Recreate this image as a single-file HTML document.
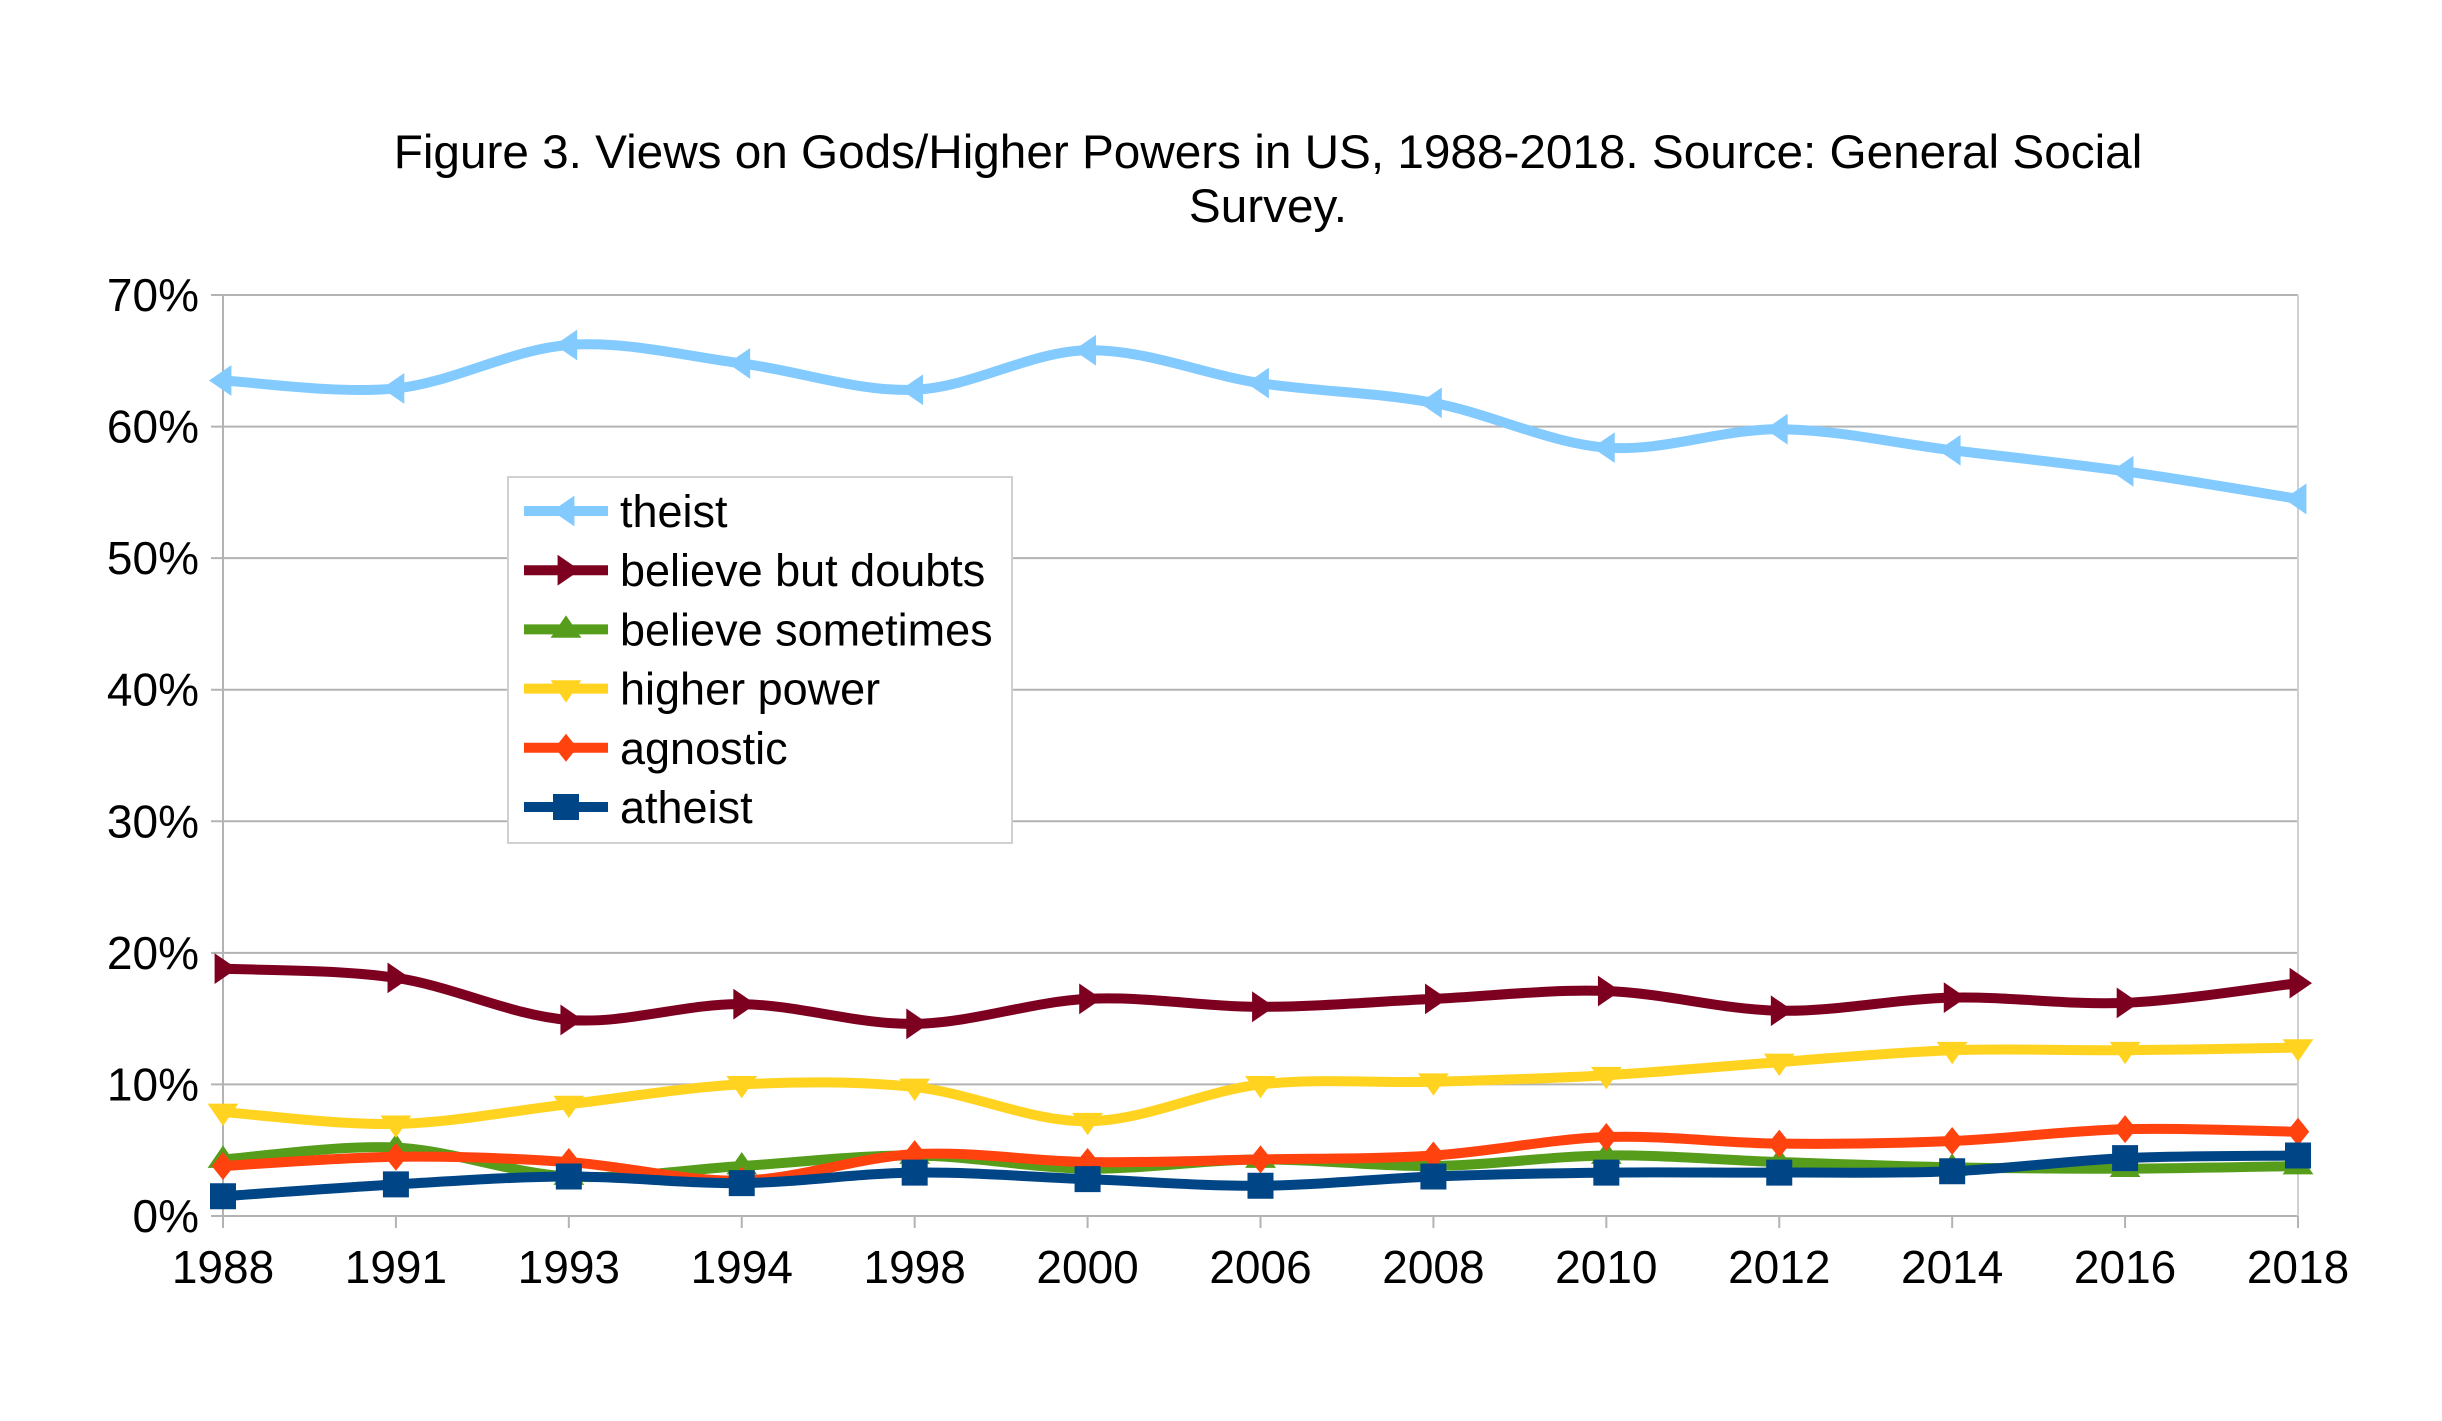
<!DOCTYPE html>
<html><head><meta charset="utf-8"><style>
html,body{margin:0;padding:0;background:#fff;}
svg{display:block;font-family:"Liberation Sans",sans-serif;}
</style></head><body>
<svg id="chart" width="2442" height="1421" viewBox="0 0 2442 1421" xmlns="http://www.w3.org/2000/svg">
<text x="1268" y="168" font-size="47.7" text-anchor="middle" fill="#000">Figure 3. Views on Gods/Higher Powers in US, 1988-2018. Source: General Social</text>
<text x="1268" y="222" font-size="47.7" text-anchor="middle" fill="#000">Survey.</text>
<g id="grid"></g>
<g id="series"></g>
<g id="axes"></g>
<g id="legend"></g>
</svg>
<script>
const categories = ["1988","1991","1993","1994","1998","2000","2006","2008","2010","2012","2014","2016","2018"];
const yTicks = [0,10,20,30,40,50,60,70];
const seriesNames = ["theist","believe but doubts","believe sometimes","higher power","agnostic","atheist"];
const theist = [63.5,62.9,66.2,64.8,62.8,65.8,63.3,61.8,58.4,59.8,58.2,56.6,54.5];
const doubts = [18.8,18.1,14.9,16.1,14.6,16.5,15.9,16.5,17.1,15.6,16.6,16.2,17.7];
const sometimes = [4.3,5.2,3.0,3.8,4.6,3.6,4.3,3.8,4.6,4.1,3.7,3.6,3.8];
const higher = [7.9,7.0,8.5,10.0,9.8,7.2,10.0,10.2,10.7,11.7,12.6,12.6,12.8];
const agnostic = [3.8,4.5,4.1,2.7,4.7,4.1,4.3,4.6,6.0,5.5,5.7,6.6,6.4];
const atheist = [1.5,2.4,3.0,2.5,3.3,2.8,2.3,3.0,3.3,3.3,3.4,4.4,4.6];

const NS="http://www.w3.org/2000/svg";
const L=223,R=2298,T=295,B=1216,YMAX=70;
const xs=i=>L+(R-L)*i/(categories.length-1);
const ys=v=>B-(B-T)*v/YMAX;
function mk(tag,attrs,parent){const e=document.createElementNS(NS,tag);for(const k in attrs)e.setAttribute(k,attrs[k]);parent.appendChild(e);return e;}
const grid=document.getElementById('grid'),axes=document.getElementById('axes'),sg=document.getElementById('series'),lg=document.getElementById('legend');

yTicks.forEach(v=>{
  const ln=mk('line',{x1:L-12,x2:R,y1:ys(v),y2:ys(v),stroke:'#b3b3b3','stroke-width':2},grid);
  
  
  const t=mk('text',{x:L-24,y:ys(v)+16,'font-size':46,'text-anchor':'end',fill:'#000'},axes);
  t.textContent=v+'%';
  
  
});
const ax=mk('line',{x1:L,x2:L,y1:T,y2:B+12,stroke:'#b3b3b3','stroke-width':2},grid);


const rx=mk('line',{x1:R,x2:R,y1:T,y2:B+12,stroke:'#d0d0d0','stroke-width':2},grid);


categories.forEach((c,i)=>{
  const tk=mk('line',{x1:xs(i),x2:xs(i),y1:B,y2:B+12,stroke:'#b3b3b3','stroke-width':2},grid);
  
  
  const t=mk('text',{x:xs(i),y:B+67,'font-size':46,'text-anchor':'middle',fill:'#000'},axes);
  t.textContent=c;
  
  
});

function marker(type,x,y,col,p){
  const s=14;let d;
  if(type==='left')d=`M${x-s},${y} L${x+s*0.6},${y-s*1.1} L${x+s*0.6},${y+s*1.1}Z`;
  else if(type==='right')d=`M${x+s},${y} L${x-s*0.6},${y-s*1.1} L${x-s*0.6},${y+s*1.1}Z`;
  else if(type==='up')d=`M${x},${y-s} L${x-s*1.1},${y+s*0.6} L${x+s*1.1},${y+s*0.6}Z`;
  else if(type==='down')d=`M${x},${y+s} L${x-s*1.1},${y-s*0.6} L${x+s*1.1},${y-s*0.6}Z`;
  else if(type==='diamond')d=`M${x},${y-s} L${x+s*0.8},${y} L${x},${y+s} L${x-s*0.8},${y}Z`;
  else d=`M${x-13},${y-13} h26 v26 h-26Z`;
  return mk('path',{d:d,fill:col},p);
}
function spline(pts){
  let d=`M${pts[0][0]},${pts[0][1]}`;
  for(let i=0;i<pts.length-1;i++){
    const p0=pts[Math.max(0,i-1)],p1=pts[i],p2=pts[i+1],p3=pts[Math.min(pts.length-1,i+2)];
    const c1=[p1[0]+(p2[0]-p0[0])/6,p1[1]+(p2[1]-p0[1])/6];
    const c2=[p2[0]-(p3[0]-p1[0])/6,p2[1]-(p3[1]-p1[1])/6];
    d+=` C${c1[0]},${c1[1]} ${c2[0]},${c2[1]} ${p2[0]},${p2[1]}`;
  }
  return d;
}
const allData=[theist,doubts,sometimes,higher,agnostic,atheist];
const colors=["#83caff","#7e0021","#579d1c","#ffd320","#ff420e","#004586"];
const mtypes=["left","right","up","down","diamond","square"];
const keys=["theist","believe-but-doubts","believe-sometimes","higher-power","agnostic","atheist"];
allData.forEach((vals,si)=>{
  const g=mk('g',{},sg);
  
  
  const pts=vals.map((v,i)=>[xs(i),ys(v)]);
  const p=mk('path',{d:spline(pts),fill:'none',stroke:colors[si],'stroke-width':10,'stroke-linejoin':'round'},g);
  
  
  pts.forEach((pt,i)=>{
    const m=marker(mtypes[si],pt[0],pt[1],colors[si],g);
    
    
  });
});
const box=mk('rect',{x:508,y:477,width:504,height:366,fill:'#fff',stroke:'#d0d0d0','stroke-width':2},lg);


seriesNames.forEach((n,i)=>{
  const y=511+i*59.2;
  const g=mk('g',{},lg);
  
  
  mk('line',{x1:524,x2:608,y1:y,y2:y,stroke:colors[i],'stroke-width':10},g);
  marker(mtypes[i],566,y,colors[i],g);
  const t=mk('text',{x:620,y:y+16,'font-size':45,fill:'#000'},g);
  t.textContent=n;
});
</script>
</body></html>
